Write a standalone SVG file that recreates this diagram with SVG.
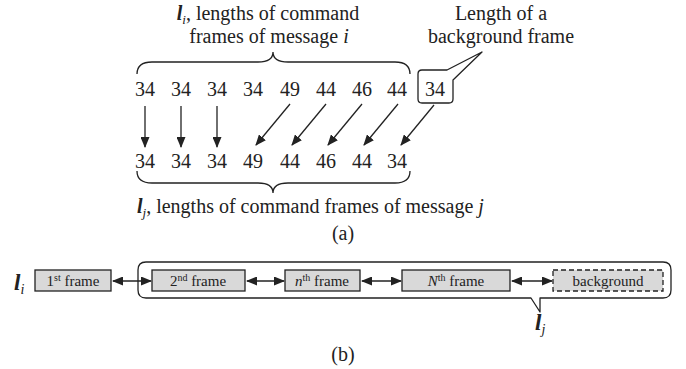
<svg xmlns="http://www.w3.org/2000/svg" width="686" height="369" viewBox="0 0 686 369" font-family="'Liberation Serif','Times New Roman',serif">
<defs>
<marker id="ah" markerWidth="11" markerHeight="9" refX="10" refY="4.5" orient="auto" markerUnits="userSpaceOnUse">
<path d="M0,0 L11,4.5 L0,9 Z" fill="#222"/>
</marker>
<marker id="as" markerWidth="11" markerHeight="9" refX="10" refY="4.5" orient="auto-start-reverse" markerUnits="userSpaceOnUse">
<path d="M0,0 L11,4.5 L0,9 Z" fill="#222"/>
</marker>
<style>
text{font-family:"Liberation Serif","Times New Roman",serif;fill:#222;}
.t{font-size:20px;}
.n{font-size:20px;text-anchor:middle;}
.s{font-size:15px;text-anchor:middle;}
.sup{font-size:10px;}
.ln{stroke:#222;stroke-width:1.3;fill:none;}
.box{fill:#d9d9d9;stroke:#222;stroke-width:1.3;}
.bl{font-weight:bold;font-style:italic;}
.it{font-style:italic;}
</style>
</defs>
<rect width="686" height="369" fill="#fff"/>

<g id="label-li-top">
<text class="t" x="268" y="20" text-anchor="middle"><tspan class="bl">l</tspan><tspan class="it" font-size="13" dy="4">i</tspan><tspan dy="-4">, lengths of command</tspan></text>
<text class="t" x="269" y="43" text-anchor="middle">frames of message <tspan class="it">i</tspan></text>
</g>
<g id="label-bg">
<text class="t" x="501" y="20" text-anchor="middle">Length of a</text>
<text class="t" x="501" y="43" text-anchor="middle">background frame</text>
</g>

<g id="brace-top"><path class="ln" d="M137,74 Q137,62 152,62 L258,62 Q273,62 273,52 Q273,62 288,62 L395,62 Q410,62 410,74"/></g>

<g id="row1">
<text class="n" x="145" y="96">34</text>
<text class="n" x="181" y="96">34</text>
<text class="n" x="217" y="96">34</text>
<text class="n" x="253" y="96">34</text>
<text class="n" x="290" y="96">49</text>
<text class="n" x="326" y="96">44</text>
<text class="n" x="362" y="96">46</text>
<text class="n" x="397" y="96">44</text>
</g>
<g id="bg-callout">
<path class="ln" d="M422,70 L447,70 L482,52 L453,80 L453,99 Q453,103 449,103 L422,103 Q418,103 418,99 L418,74 Q418,70 422,70 Z" stroke-linejoin="round"/>
<text class="n" x="435" y="96">34</text>
</g>

<g id="row2">
<text class="n" x="145" y="168">34</text>
<text class="n" x="181" y="168">34</text>
<text class="n" x="217" y="168">34</text>
<text class="n" x="253" y="168">49</text>
<text class="n" x="290" y="168">44</text>
<text class="n" x="326" y="168">46</text>
<text class="n" x="362" y="168">44</text>
<text class="n" x="397" y="168">34</text>
</g>

<g id="connectors-a">
<line class="ln" x1="145" y1="106" x2="145" y2="147" marker-end="url(#ah)"/>
<line class="ln" x1="181" y1="106" x2="181" y2="147" marker-end="url(#ah)"/>
<line class="ln" x1="217" y1="106" x2="217" y2="147" marker-end="url(#ah)"/>
<line class="ln" x1="290" y1="104" x2="256" y2="145" marker-end="url(#ah)"/>
<line class="ln" x1="326" y1="104" x2="292" y2="145" marker-end="url(#ah)"/>
<line class="ln" x1="362" y1="104" x2="328" y2="145" marker-end="url(#ah)"/>
<line class="ln" x1="398" y1="104" x2="364" y2="145" marker-end="url(#ah)"/>
<line class="ln" x1="434" y1="105" x2="401" y2="145" marker-end="url(#ah)"/>
</g>

<g id="brace-bottom"><path class="ln" d="M137,171 Q137,183 152,183 L258,183 Q273,183 273,193 Q273,183 288,183 L395,183 Q410,183 410,171"/></g>

<g id="label-lj-a">
<text class="t" x="137" y="213"><tspan class="bl">l</tspan><tspan class="it" font-size="13" dy="4">j</tspan><tspan dy="-4">, lengths of command frames of message </tspan><tspan class="it">j</tspan></text>
</g>
<text class="t" x="343" y="240" text-anchor="middle">(a)</text>

<g id="label-li-b">
<text x="14" y="290" font-size="23"><tspan class="bl">l</tspan><tspan class="it" font-size="14" dy="4">i</tspan></text>
</g>

<g id="container">
<path class="ln" d="M146,262 L663,262 Q671,262 671,270 L671,290 Q671,298 663,298 L540,298 L540,312 L531,298 L146,298 Q138,298 138,290 L138,270 Q138,262 146,262 Z" stroke-linejoin="round"/>
</g>

<g id="f1"><rect class="box" x="35" y="270" width="76" height="21"/><text class="s" x="73" y="286">1<tspan class="sup" dy="-5">st</tspan><tspan dy="5"> frame</tspan></text></g>
<g id="f2"><rect class="box" x="152" y="270" width="93" height="21"/><text class="s" x="198" y="286">2<tspan class="sup" dy="-5">nd</tspan><tspan dy="5"> frame</tspan></text></g>
<g id="fn"><rect class="box" x="285" y="270" width="75" height="21"/><text class="s" x="322" y="286"><tspan class="it">n</tspan><tspan class="sup" dy="-5">th</tspan><tspan dy="5"> frame</tspan></text></g>
<g id="fN"><rect class="box" x="402" y="270" width="108" height="21"/><text class="s" x="456" y="286"><tspan class="it">N</tspan><tspan class="sup" dy="-5">th</tspan><tspan dy="5"> frame</tspan></text></g>
<g id="fbg"><rect class="box" x="553" y="270" width="110" height="21" stroke-dasharray="5,3"/><text class="s" x="608" y="286">background</text></g>

<g id="connectors-b">
<line class="ln" x1="113" y1="281" x2="151" y2="281" marker-start="url(#as)" marker-end="url(#ah)"/>
<line class="ln" x1="247" y1="281" x2="284" y2="281" marker-start="url(#as)" marker-end="url(#ah)"/>
<line class="ln" x1="362" y1="281" x2="401" y2="281" marker-start="url(#as)" marker-end="url(#ah)"/>
<line class="ln" x1="512" y1="281" x2="552" y2="281" marker-start="url(#as)" marker-end="url(#ah)"/>
</g>

<g id="label-lj-b">
<text x="535" y="330" font-size="23"><tspan class="bl">l</tspan><tspan class="it" font-size="14" dy="4">j</tspan></text>
</g>
<text class="t" x="343" y="361" text-anchor="middle">(b)</text>
</svg>
